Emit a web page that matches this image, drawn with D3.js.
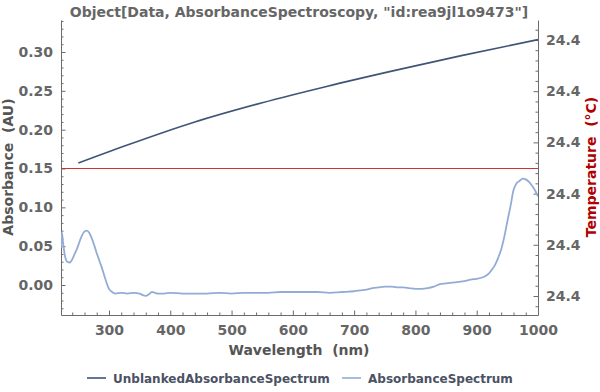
<!DOCTYPE html>
<html>
<head>
    <meta charset="utf-8">
    <title>Absorbance Spectroscopy</title>
    <script src="https://d3js.org/d3.v7.min.js"></script>
    <style>
        body { margin: 0; background: #fff; }
        svg { font-family: "DejaVu Sans", sans-serif; font-weight: bold; }
        .axis path, .axis line { stroke: #6b6b6b; }
        .axis text { fill: #666; font-size: 14px; font-family: "DejaVu Sans", sans-serif; font-weight: bold; }
    </style>
</head>
<body>
<svg id="chart" width="600" height="392"></svg>
<script>
    // unblanked spectrum (smooth)
    var unblankedWl  = [250, 330, 440, 550, 655, 765, 875, 1000];
    var unblankedAbs = [0.157, 0.1802, 0.2099, 0.2347, 0.2557, 0.2760, 0.2953, 0.3159];

    // blanked absorbance spectrum
    var absWl  = [222, 223, 225, 228, 232, 236, 240, 244, 248, 252, 256, 260, 264, 268, 272, 276, 280, 284, 288, 292, 296, 300,
                  305, 310, 320, 330, 340, 350, 355, 360, 365, 370, 375, 380, 390, 400, 420, 440, 460, 480, 500, 520, 540, 560,
                  580, 600, 620, 640, 660, 680, 700, 710, 720, 730, 740, 750, 760, 770, 780, 790, 800, 810, 820, 830, 840, 850,
                  860, 870, 880, 890, 900, 910, 915, 920, 925, 930, 935, 940, 945, 950, 955, 960, 965, 970, 975, 980, 985, 990, 995, 1000];
    var absVal = [0.048, 0.068, 0.055, 0.038, 0.030, 0.029, 0.033, 0.040, 0.047, 0.056, 0.064, 0.069, 0.070, 0.067, 0.060, 0.051, 0.041, 0.032, 0.023, 0.013, 0.003, -0.005,
                  -0.009, -0.011, -0.010, -0.011, -0.010, -0.011, -0.013, -0.014, -0.012, -0.009, -0.010, -0.011, -0.011, -0.010, -0.011, -0.011, -0.011, -0.010, -0.011, -0.010, -0.010, -0.010,
                  -0.009, -0.009, -0.009, -0.009, -0.010, -0.009, -0.008, -0.007, -0.006, -0.004, -0.003, -0.002, -0.002, -0.003, -0.003, -0.004, -0.005, -0.005, -0.004, -0.002, 0.001, 0.002,
                  0.003, 0.004, 0.005, 0.007, 0.008, 0.010, 0.012, 0.015, 0.020, 0.026, 0.035, 0.046, 0.062, 0.082, 0.101, 0.122, 0.131, 0.134, 0.137, 0.136, 0.133, 0.128, 0.122, 0.114];

    // temperature: constant over the run
    var temperature = 24.405;
    var tempTicks = [24.400, 24.402, 24.404, 24.406, 24.408, 24.410];

    var xTicks = [300, 400, 500, 600, 700, 800, 900, 1000];
    var yTicks = [0.00, 0.05, 0.10, 0.15, 0.20, 0.25, 0.30];

    var seriesNames  = ["UnblankedAbsorbanceSpectrum", "AbsorbanceSpectrum"];
    var seriesColors = ["#3f5577", "#93acd6"];

    var svg = d3.select("#chart");
    var plotL = 61, plotR = 538, plotT = 20, plotB = 315;

    var x = d3.scaleLinear().domain([221.7, 1000]).range([plotL, plotR]);
    var y = d3.scaleLinear().domain([-0.0386, 0.3412]).range([plotB, plotT]);
    var yT = d3.scaleLinear().domain([24.400 - 0.002 * 0.371, 24.410 + 0.002 * 0.39]).range([plotB, plotT]);

    // minor ticks first
    var xMinor = d3.range(240, 1001, 20).filter(function(v) { return v % 100 != 0; });
    var yMinor = d3.range(-3, 35).map(function(v) { return v / 100; }).filter(function(v) { return Math.round(v * 100) % 5 != 0; });
    var tMinor = d3.range(-1, 27).map(function(i) { return 24.400 + i * 0.0004; })
        .filter(function(v, i) { return (i - 1) % 5 != 0; })
        .filter(function(v) { return yT(v) <= plotB && yT(v) >= plotT; });

    svg.append("g").attr("class", "axis")
        .attr("transform", "translate(0," + plotB + ")")
        .call(d3.axisBottom(x).tickValues(xMinor).tickSize(-2.5).tickFormat(""))
        .select(".domain").remove();
    svg.append("g").attr("class", "axis")
        .attr("transform", "translate(" + plotL + ",0)")
        .call(d3.axisLeft(y).tickValues(yMinor).tickSize(-2.5).tickFormat(""))
        .select(".domain").remove();
    svg.append("g").attr("class", "axis")
        .attr("transform", "translate(" + plotR + ",0)")
        .call(d3.axisRight(yT).tickValues(tMinor).tickSize(-2.5).tickFormat(""))
        .select(".domain").remove();

    // major axes
    svg.append("g").attr("class", "axis")
        .attr("transform", "translate(0," + plotB + ")")
        .call(d3.axisBottom(x).tickValues(xTicks).tickSize(-4.5).tickPadding(10).tickSizeOuter(0).tickFormat(d3.format("d")));
    svg.append("g").attr("class", "axis")
        .attr("transform", "translate(" + plotL + ",0)")
        .call(d3.axisLeft(y).tickValues(yTicks).tickSize(-4.5).tickPadding(8).tickSizeOuter(0).tickFormat(d3.format(".2f")));
    svg.append("g").attr("class", "axis")
        .attr("transform", "translate(" + plotR + ",0)")
        .call(d3.axisRight(yT).tickValues(tempTicks).tickSize(-4.5).tickPadding(8).tickSizeOuter(0).tickFormat(d3.format(".1f")));

    svg.append("clipPath").attr("id", "plot-clip")
        .append("rect").attr("x", plotL).attr("y", plotT).attr("width", plotR - plotL).attr("height", plotB - plotT);

    var plot = svg.append("g").attr("clip-path", "url(#plot-clip)");

    var unblanked = unblankedWl.map(function(w, i) { return [w, unblankedAbs[i]]; });
    var blanked = absWl.map(function(w, i) { return [w, absVal[i]]; });

    // temperature line, snapped to the pixel grid
    var tempY = Math.round(yT(temperature)) + 0.5;
    plot.append("line")
        .attr("x1", plotL).attr("x2", plotR)
        .attr("y1", tempY).attr("y2", tempY)
        .style("stroke", "#cc3333").style("stroke-width", "1.1px");

    var line = d3.line()
        .x(function(d) { return x(d[0]); })
        .y(function(d) { return y(d[1]); })
        .curve(d3.curveMonotoneX);

    plot.append("path").datum(blanked)
        .attr("d", line).attr("fill", "none")
        .attr("stroke", seriesColors[1]).attr("stroke-width", 1.8);

    plot.append("path").datum(unblanked)
        .attr("d", line).attr("fill", "none")
        .attr("stroke", seriesColors[0]).attr("stroke-width", 1.6);

    // title and labels
    svg.append("text").attr("x", 299).attr("y", 17).attr("text-anchor", "middle")
        .attr("fill", "#666").style("font-size", "14px")
        .text('Object[Data, AbsorbanceSpectroscopy, "id:rea9jl1o9473"]');

    svg.append("text").attr("x", 299).attr("y", 355).attr("text-anchor", "middle")
        .attr("fill", "#555").style("font-size", "14px").style("white-space", "pre")
        .text("Wavelength  (nm)");

    svg.append("text").attr("transform", "translate(13,167) rotate(-90)").attr("text-anchor", "middle")
        .attr("fill", "#555").style("font-size", "14px").style("white-space", "pre")
        .text("Absorbance  (AU)");

    svg.append("text").attr("transform", "translate(596,167) rotate(-90)").attr("text-anchor", "middle")
        .attr("fill", "#b00000").style("font-size", "14px").style("white-space", "pre")
        .text("Temperature  (°C)");

    // legend
    var legendX = [87, 342];
    seriesNames.forEach(function(name, i) {
        var g = svg.append("g").attr("transform", "translate(" + legendX[i] + ",378)");
        g.append("line").attr("x1", 0).attr("x2", 19).attr("y1", 0).attr("y2", 0)
            .attr("stroke", seriesColors[i]).attr("stroke-width", 1.6);
        g.append("text").attr("x", 26).attr("y", 4.5)
            .attr("fill", "#4a5263").style("font-size", "12px")
            .text(name);
    });
</script>
</body>
</html>
